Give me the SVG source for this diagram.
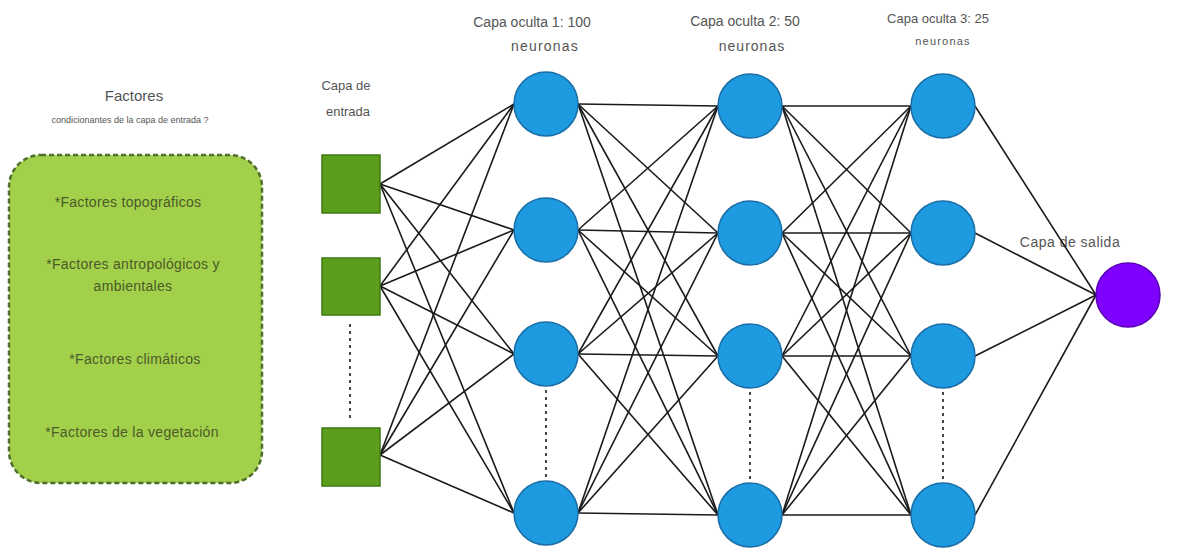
<svg xmlns="http://www.w3.org/2000/svg" width="1191" height="552" viewBox="0 0 1191 552">
<style>
.lbl{font-family:"Liberation Sans",Arial,sans-serif;fill:#555;text-anchor:middle}
.fac{font-family:"Liberation Sans",Arial,sans-serif;fill:#4a5a28;font-size:14px;letter-spacing:0.3px;text-anchor:middle}
.in{fill:#5a9e1c;stroke:#3f7a12;stroke-width:1.5}
.hid{fill:#1e9ae0;stroke:#1a6ea6;stroke-width:1.5}
.out{fill:#8000ff;stroke:#5a00b8;stroke-width:1.5}
.conn line{stroke:#1a1a1a;stroke-width:1.6}
.dots{stroke:#333;stroke-width:3;stroke-dasharray:3 4}
</style>
<rect width="1191" height="552" fill="#ffffff"/>

<g id="factores">
  <text class="lbl" x="134" y="101" font-size="15">Factores</text>
  <text class="lbl" x="130" y="123" font-size="9">condicionantes de la capa de entrada ?</text>
  <rect x="9" y="155" width="253" height="328" rx="32" ry="32" fill="#a3d04b" stroke="#4e6e2a" stroke-width="2.5" stroke-dasharray="5 3"/>
  <text class="fac" x="128" y="207">*Factores topográficos</text>
  <text class="fac" x="133" y="269">*Factores antropológicos y</text>
  <text class="fac" x="133" y="291">ambientales</text>
  <text class="fac" x="135" y="364">*Factores climáticos</text>
  <text class="fac" x="132" y="437">*Factores de la vegetación</text>
</g>

<g id="labels">
  <text class="lbl" x="346" y="90" font-size="13">Capa de</text>
  <text class="lbl" x="348" y="116" font-size="13">entrada</text>
  <text class="lbl" x="532" y="27" font-size="14">Capa oculta 1: 100</text>
  <text class="lbl" x="545" y="51" font-size="14" letter-spacing="1.2">neuronas</text>
  <text class="lbl" x="745" y="26" font-size="14">Capa oculta 2: 50</text>
  <text class="lbl" x="752" y="51" font-size="14" letter-spacing="1">neuronas</text>
  <text class="lbl" x="938" y="23" font-size="13">Capa oculta 3: 25</text>
  <text class="lbl" x="943" y="45" font-size="11" letter-spacing="1.2">neuronas</text>
  <text class="lbl" x="1070" y="247" font-size="14" text-anchor="start" letter-spacing="0.5">Capa de salida</text>
</g>

<g id="connectors" class="conn">
  <line x1="380" y1="184" x2="514" y2="104"/><line x1="380" y1="184" x2="514" y2="230"/><line x1="380" y1="184" x2="514" y2="354"/><line x1="380" y1="184" x2="514" y2="513"/>
  <line x1="380" y1="286" x2="514" y2="104"/><line x1="380" y1="286" x2="514" y2="230"/><line x1="380" y1="286" x2="514" y2="354"/><line x1="380" y1="286" x2="514" y2="513"/>
  <line x1="380" y1="455" x2="514" y2="104"/><line x1="380" y1="455" x2="514" y2="230"/><line x1="380" y1="455" x2="514" y2="354"/><line x1="380" y1="455" x2="514" y2="513"/>
  <line x1="578" y1="104" x2="718" y2="106"/><line x1="578" y1="104" x2="718" y2="233"/><line x1="578" y1="104" x2="718" y2="356"/><line x1="578" y1="104" x2="718" y2="515"/>
  <line x1="578" y1="230" x2="718" y2="106"/><line x1="578" y1="230" x2="718" y2="233"/><line x1="578" y1="230" x2="718" y2="356"/><line x1="578" y1="230" x2="718" y2="515"/>
  <line x1="578" y1="354" x2="718" y2="106"/><line x1="578" y1="354" x2="718" y2="233"/><line x1="578" y1="354" x2="718" y2="356"/><line x1="578" y1="354" x2="718" y2="515"/>
  <line x1="578" y1="513" x2="718" y2="106"/><line x1="578" y1="513" x2="718" y2="233"/><line x1="578" y1="513" x2="718" y2="356"/><line x1="578" y1="513" x2="718" y2="515"/>
  <line x1="782" y1="106" x2="911" y2="106"/><line x1="782" y1="106" x2="911" y2="233"/><line x1="782" y1="106" x2="911" y2="356"/><line x1="782" y1="106" x2="911" y2="515"/>
  <line x1="782" y1="233" x2="911" y2="106"/><line x1="782" y1="233" x2="911" y2="233"/><line x1="782" y1="233" x2="911" y2="356"/><line x1="782" y1="233" x2="911" y2="515"/>
  <line x1="782" y1="356" x2="911" y2="106"/><line x1="782" y1="356" x2="911" y2="233"/><line x1="782" y1="356" x2="911" y2="356"/><line x1="782" y1="356" x2="911" y2="515"/>
  <line x1="782" y1="515" x2="911" y2="106"/><line x1="782" y1="515" x2="911" y2="233"/><line x1="782" y1="515" x2="911" y2="356"/><line x1="782" y1="515" x2="911" y2="515"/>
  <line x1="975" y1="106" x2="1096" y2="295"/><line x1="975" y1="233" x2="1096" y2="295"/><line x1="975" y1="356" x2="1096" y2="295"/><line x1="975" y1="515" x2="1096" y2="295"/>
  <line class="dots" x1="350" y1="324" x2="350" y2="422"/>
  <line class="dots" x1="546" y1="390" x2="546" y2="480"/>
  <line class="dots" x1="750" y1="392" x2="750" y2="482"/>
  <line class="dots" x1="943" y1="392" x2="943" y2="482"/>
</g>

<g id="in1"><rect class="in" x="322" y="155" width="58" height="58"/></g>
<g id="in2"><rect class="in" x="322" y="258" width="58" height="57"/></g>
<g id="in3"><rect class="in" x="322" y="428" width="58" height="58"/></g>

<g id="h1n1"><circle class="hid" cx="546" cy="104" r="32"/></g>
<g id="h1n2"><circle class="hid" cx="546" cy="230" r="32"/></g>
<g id="h1n3"><circle class="hid" cx="546" cy="354" r="32"/></g>
<g id="h1n4"><circle class="hid" cx="546" cy="513" r="32"/></g>

<g id="h2n1"><circle class="hid" cx="750" cy="106" r="32"/></g>
<g id="h2n2"><circle class="hid" cx="750" cy="233" r="32"/></g>
<g id="h2n3"><circle class="hid" cx="750" cy="356" r="32"/></g>
<g id="h2n4"><circle class="hid" cx="750" cy="515" r="32"/></g>

<g id="h3n1"><circle class="hid" cx="943" cy="106" r="32"/></g>
<g id="h3n2"><circle class="hid" cx="943" cy="233" r="32"/></g>
<g id="h3n3"><circle class="hid" cx="943" cy="356" r="32"/></g>
<g id="h3n4"><circle class="hid" cx="943" cy="515" r="32"/></g>

<g id="out"><circle class="out" cx="1128" cy="295" r="32"/></g>
</svg>
